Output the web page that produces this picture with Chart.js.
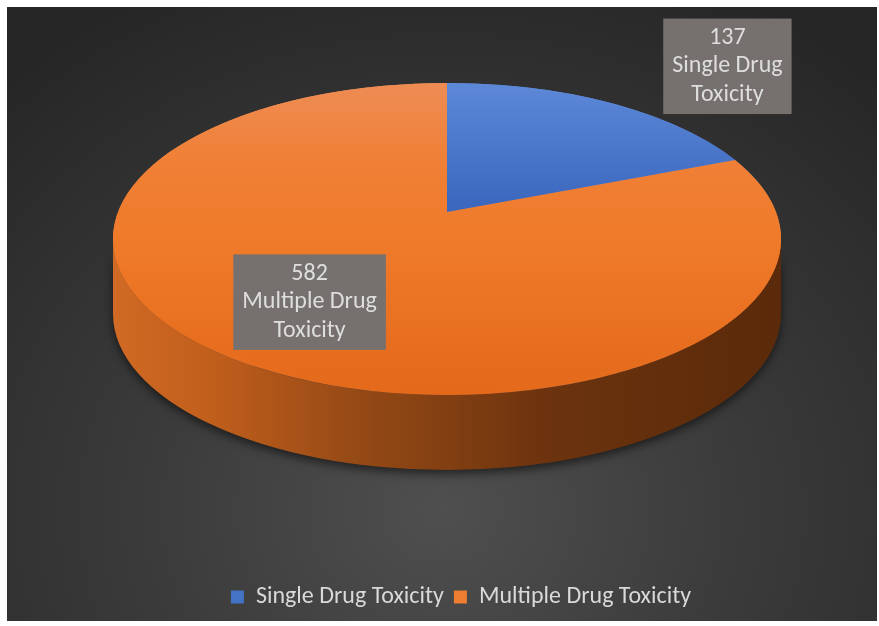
<!DOCTYPE html>
<html>
<head>
<meta charset="utf-8">
<title>Drug Toxicity</title>
<script src="https://cdn.jsdelivr.net/npm/chart.js@4.4.1/dist/chart.umd.min.js"></script>
<style>
    html, body { margin: 0; padding: 0; background: #fff; }
    #wrap {
        position: absolute; left: 7px; top: 7px; width: 870px; height: 614px;
        background: radial-gradient(ellipse 75% 95% at 50% 82%, #4f4f4f 0%, #3b3b3b 45%, #262626 100%);
    }
    canvas { display: block; }
</style>
</head>
<body>
<div id="wrap"><canvas id="pieChart" width="870" height="614"></canvas></div>
<script>
const categories = ['Single Drug Toxicity', 'Multiple Drug Toxicity'];
const counts = [137, 582];

const FONT = 'Carlito, Calibri, Lato, sans-serif';

// vertical gradient over the whole (untilted) pie, so the tilt keeps it top->bottom
function faceGradient(chart, stops) {
    const area = chart.chartArea;
    if (!area) return stops[0][1];
    const y0 = (area.top + area.bottom) / 2;
    const r = Math.min(area.width, area.height) / 2;
    const g = chart.ctx.createLinearGradient(0, y0 - r, 0, y0 + r);
    stops.forEach(([o, c]) => g.addColorStop(o, c));
    return g;
}

const sliceStops = [
    [[0, '#6090dc'], [0.15, '#5c87d7'], [0.47, '#3c68bf'], [1, '#3360b5']],
    [[0, '#ee9060'], [0.15, '#ee8b52'], [0.35, '#f08036'], [0.6, '#ef7a29'], [1, '#e4691b']],
];

function wrapText(ctx, text, maxWidth) {
    const words = text.split(' ');
    const lines = [];
    let line = '';
    words.forEach(w => {
        const test = line ? line + ' ' + w : w;
        if (line && ctx.measureText(test).width > maxWidth) {
            lines.push(line);
            line = w;
        } else {
            line = test;
        }
    });
    if (line) lines.push(line);
    return lines;
}

function tilt(ctx, g, cx, cy, rx, ry) {
    ctx.translate(cx, cy);
    ctx.scale(rx / g.r, ry / g.r);
    ctx.translate(-g.x0, -g.y0);
}

// Excel-like 3D pie: tilt the library's arcs into an ellipse and add a side wall.
// The top face is drawn twice: once on the true ellipse, then again with the
// centre pulled up (clipped to the ellipse) to fake the perspective.
const pie3d = {
    id: 'pie3d',
    geometry(chart) {
        const o = chart.options.plugins.pie3d;
        const arc = chart.getDatasetMeta(0).data[0];
        return { x0: arc.x, y0: arc.y, r: arc.outerRadius, ...o };
    },
    beforeDatasetsDraw(chart) {
        const g = this.geometry(chart);
        const ctx = chart.ctx;
        const meta = chart.getDatasetMeta(0);

        const wall = ctx.createLinearGradient(g.cx - g.rx, 0, g.cx + g.rx, 0);
        wall.addColorStop(0, '#d06a24');
        wall.addColorStop(0.15, '#c05e1c');
        wall.addColorStop(0.35, '#984b16');
        wall.addColorStop(0.65, '#6c330e');
        wall.addColorStop(1, '#5a2a0a');

        ctx.save();
        ctx.shadowColor = 'rgba(0, 0, 0, 0.55)';
        ctx.shadowBlur = 10;
        ctx.shadowOffsetY = 4;
        meta.data.forEach(arc => {
            const a1 = Math.max(arc.startAngle, 0);
            const a2 = Math.min(arc.endAngle, Math.PI);
            if (a2 <= a1) return;
            ctx.beginPath();
            ctx.ellipse(g.cx, g.cy, g.rx, g.ry, 0, a1, a2, false);
            ctx.ellipse(g.cx, g.cy + g.depth, g.rx, g.ry, 0, a2, a1, true);
            ctx.closePath();
            ctx.fillStyle = wall;
            ctx.fill();
        });
        ctx.restore();

        // base pass on the true ellipse
        ctx.save();
        tilt(ctx, g, g.cx, g.cy, g.rx, g.ry);
        meta.data.forEach(arc => arc.draw(ctx));
        ctx.restore();

        // perspective pass, drawn by the library itself
        ctx.save();
        ctx.beginPath();
        ctx.ellipse(g.cx, g.cy, g.rx, g.ry, 0, 0, Math.PI * 2);
        ctx.clip();
        tilt(ctx, g, g.cx, g.cy - g.lift, g.prx, g.pry);
    },
    afterDatasetsDraw(chart) {
        const ctx = chart.ctx;
        ctx.restore();

        const g = this.geometry(chart);
        const meta = chart.getDatasetMeta(0);
        const data = chart.data.datasets[0].data;

        ctx.save();
        ctx.font = `${g.fontSize}px ${FONT}`;
        ctx.textAlign = 'center';
        ctx.textBaseline = 'middle';
        meta.data.forEach((arc, i) => {
            const mid = (arc.startAngle + arc.endAngle) / 2;
            const k = g.labelOffsets[i];
            const ax = g.cx + g.rx * Math.cos(mid) * k[0];
            const ay = g.cy + g.ry * Math.sin(mid) * k[1];
            const lines = [String(data[i])].concat(wrapText(ctx, chart.data.labels[i], 150));
            const w = Math.max(...lines.map(l => ctx.measureText(l).width)) + 18;
            const h = lines.length * g.lineHeight + 10;
            ctx.fillStyle = '#76716f';
            ctx.fillRect(ax - w / 2, ay - h / 2, w, h);
            ctx.fillStyle = '#dedede';
            lines.forEach((l, j) => {
                ctx.fillText(l, ax, ay - h / 2 + 5 + g.lineHeight * (j + 0.5));
            });
        });
        ctx.restore();
    }
};

document.addEventListener('DOMContentLoaded', () => {
    new Chart(document.getElementById('pieChart').getContext('2d'), {
        type: 'pie',
        data: {
            labels: categories,
            datasets: [{
                data: counts,
                backgroundColor: ctx => faceGradient(ctx.chart, sliceStops[ctx.dataIndex]),
                borderWidth: 0,
            }]
        },
        options: {
            responsive: false,
            animation: false,
            layout: { padding: { top: 10, bottom: 2, left: 38 } },
            plugins: {
                legend: {
                    position: 'bottom',
                    labels: {
                        boxWidth: 13,
                        boxHeight: 13,
                        padding: 10,
                        color: '#d9d9d9',
                        font: { family: FONT, size: 24 },
                        generateLabels: chart => chart.data.labels.map((l, i) => ({
                            text: l,
                            fillStyle: ['#4472c4', '#ed7d31'][i],
                            strokeStyle: 'rgba(0,0,0,0)',
                            lineWidth: 0,
                            fontColor: '#d9d9d9',
                            index: i,
                        })),
                    },
                },
                tooltip: { enabled: false },
                pie3d: {
                    cx: 440, cy: 232, rx: 334, ry: 156, depth: 75,
                    lift: 27, prx: 380, pry: 175,
                    fontSize: 24, lineHeight: 28.5,
                    labelOffsets: [[1.49, 1.34], [0.73, 0.49]],
                },
            },
        },
        plugins: [pie3d],
    });
});
</script>
</body>
</html>
